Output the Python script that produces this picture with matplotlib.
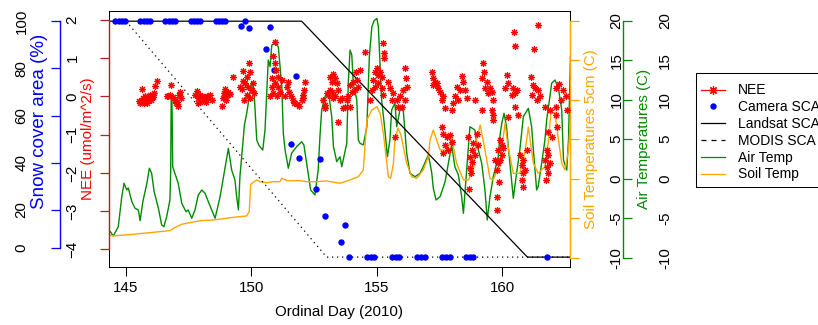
import matplotlib
matplotlib.use("Agg")
import matplotlib.pyplot as plt
from matplotlib.lines import Line2D
from matplotlib.patches import Rectangle

plt.rcParams['font.family'] = ['Liberation Sans', 'DejaVu Sans']

# air temperature (C)
air_day = [144.32, 144.49, 144.69, 144.83, 144.92, 145.03, 145.09, 145.23, 145.36, 145.49, 145.56, 145.67, 145.83, 145.93, 146.02,
           146.12, 146.29, 146.42, 146.51, 146.62, 146.75, 146.78, 146.80, 146.83, 146.86, 147.08, 147.22, 147.39, 147.48, 147.62,
           147.75, 147.88, 148.02, 148.15, 148.28, 148.55, 148.75, 148.91, 149.08, 149.21, 149.34, 149.41, 149.48, 149.54, 149.68,
           149.72, 149.81, 150.01, 150.10, 150.21, 150.30, 150.45, 150.54, 150.67, 150.74, 150.81, 150.94, 151.07, 151.21, 151.27,
           151.34, 151.47, 151.60, 151.80, 152.00, 152.09, 152.20, 152.36, 152.53, 152.66, 152.73, 152.80, 152.93, 153.07, 153.20,
           153.27, 153.40, 153.53, 153.60, 153.80, 153.86, 153.93, 154.00, 154.06, 154.20, 154.26, 154.33, 154.46, 154.60, 154.70,
           154.80, 154.89, 155.00, 155.06, 155.13, 155.19, 155.32, 155.42, 155.52, 155.59, 155.72, 155.79, 155.92, 156.05, 156.19,
           156.32, 156.52, 156.72, 156.85, 157.05, 157.12, 157.19, 157.25, 157.36, 157.52, 157.72, 157.85, 157.98, 158.11, 158.25,
           158.38, 158.45, 158.58, 158.64, 158.71, 158.91, 158.98, 159.18, 159.31, 159.40, 159.51, 159.64, 159.84, 159.91, 159.98,
           160.07, 160.17, 160.24, 160.37, 160.44, 160.57, 160.70, 160.84, 161.04, 161.17, 161.24, 161.37, 161.43, 161.57, 161.70,
           161.77, 161.97, 162.10, 162.24, 162.37, 162.44, 162.57, 162.64, 162.72]
air_temp = [-6.49, -7.25, -6.08, -2.28, -0.58, -1.43, -1.18, -2.91, -3.75, -3.96, -5.32, -2.91, -0.58, 1.32, 0.68,
            -1.65, -3.75, -5.86, -6.08, -4.81, -2.70, 1.00, 10.40, 10.20, 1.50, -0.58, -3.11, -4.18, -3.96, -5.01,
            -3.96, -2.06, -1.43, -1.85, -2.91, -5.01, -2.28, 0.68, 3.85, 1.10, -0.16, -2.28, -3.96, 0.25, 5.32,
            6.80, 8.28, 12.28, 11.23, 4.90, 4.20, 3.63, 6.16, 15.03, 14.18, 16.92, 17.14, 16.71, 11.65, 5.75,
            3.63, 1.32, 3.22, 4.05, 4.68, 4.27, 1.95, -1.43, -2.06, 1.10, 5.32, 8.70, 10.38, 11.01, 7.85,
            4.05, 2.15, 2.78, 1.52, 4.48, 12.08, 16.29, 15.66, 12.08, 9.96, 4.90, 4.48, 4.27, 6.58, 15.44,
            19.24, 20.00, 20.30, 19.24, 14.18, 9.96, 6.16, 2.78, 4.90, 8.70, 9.58, 6.58, 8.70, 8.70, 3.22,
            0.68, 0.25, 0.68, 1.52, 3.00, 1.95, 0.68, -1.21, -2.70, -2.28, -0.38, 1.95, 4.27, 1.52, 0.47,
            -2.28, -4.38, 1.10, 3.63, 6.58, 6.16, 4.48, 1.95, -1.43, -5.23, -2.28, 0.25, 2.78, 5.53, 7.01,
            8.28, 6.58, 4.05, -0.16, -2.48, 0.68, 3.63, 7.85, 8.91, 6.58, 3.63, -1.43, -1.01, 1.95, 4.90,
            7.43, 12.08, 12.49, 11.44, 8.70, 2.37, 1.10, 4.90, 15.50]

# soil temperature at 5 cm (C)
soil_day = [144.32, 144.49, 145.29, 145.96, 146.75, 146.89, 147.22, 147.62, 147.95, 148.48, 149.01, 149.28, 149.81, 149.91, 149.97,
            150.21, 150.34, 150.61, 150.87, 151.14, 151.21, 151.41, 151.94, 152.20, 152.60, 153.00, 153.53, 153.93, 154.26, 154.46,
            154.60, 154.80, 155.00, 155.13, 155.26, 155.32, 155.46, 155.55, 155.66, 155.72, 155.84, 155.96, 156.19, 156.39, 156.59,
            156.85, 157.05, 157.12, 157.25, 157.52, 157.78, 157.98, 158.18, 158.45, 158.65, 158.85, 158.98, 159.12, 159.31, 159.51,
            159.64, 159.91, 160.11, 160.23, 160.44, 160.70, 160.90, 161.04, 161.24, 161.43, 161.70, 161.83, 161.94, 162.10, 162.17,
            162.37, 162.50, 162.64, 162.72]
soil_temp = [-7.13, -7.25, -7.04, -6.83, -6.58, -6.28, -5.77, -5.52, -5.32, -5.23, -5.01, -4.89, -4.72, -4.18, -0.71,
             -0.16, -0.38, -0.51, -0.38, -0.38, 0.05, -0.25, -0.25, -0.38, -0.38, -0.29, -0.58, -0.16, 0.25, 1.10,
             7.43, 8.70, 9.11, 8.28, 5.75, 4.05, 0.25, 0.05, 1.95, 4.90, 6.42, 5.53, 1.95, 0.25, 0.05,
             1.10, 2.78, 4.90, 6.16, 3.63, 3.63, 5.11, 1.95, -0.16, -0.16, 1.10, 4.90, 6.80, 3.63, 0.05,
             -0.16, 1.95, 7.05, 4.05, 0.68, 0.68, 3.22, 6.54, 1.95, 0.68, 1.52, 4.48, 8.32, 8.32, 6.58,
             1.95, 1.10, 3.63, 7.43]

# NEE (umol/m^2/s)
nee_day = [145.63, 146.22, 146.16, 146.12, 146.02, 145.96, 145.89, 145.83, 145.76, 145.69, 145.56, 145.67, 145.80, 145.98, 146.06, 146.09, 145.63, 145.72, 145.85, 145.51,
           146.79, 146.69, 146.62, 146.75, 146.95, 146.89, 147.15, 147.12, 147.08, 147.02, 146.99, 147.18,
           147.82, 147.75, 147.88, 147.95, 148.02, 148.08, 148.15, 148.22, 148.28, 148.35, 147.95, 148.19, 148.42, 147.86,
           148.95, 148.91, 148.85, 148.81, 149.01, 149.08, 149.15, 148.99, 149.25,
           149.91, 149.68, 149.94, 149.81, 149.65, 149.74, 149.61, 149.88, 150.01, 150.07, 149.81, 149.94, 149.70, 150.10, 149.54,
           150.94, 150.87, 150.94, 150.98, 150.81, 151.07, 151.21, 150.94, 150.81, 151.07, 151.14, 150.87, 151.01, 150.74,
           151.34, 151.47, 151.41, 151.51, 151.56, 151.64, 151.70, 151.80, 151.91, 152.00, 152.07, 152.09, 152.13, 152.04,
           153.24, 153.33, 153.20, 153.40, 153.13, 153.46, 152.84, 152.93, 153.06, 153.26, 153.00, 153.13, 153.20, 153.33, 153.53, 153.60, 153.66, 153.46, 152.93,
           153.93, 154.06, 154.20, 154.00, 154.13, 154.26, 153.86, 154.33, 154.17, 153.80, 153.73, 153.93, 154.51,
           155.26, 155.30, 155.28, 154.99, 155.12, 155.06, 154.93, 155.19, 154.86, 155.06, 154.79, 154.93, 155.19, 155.26, 154.73,
           155.46, 155.52, 155.66, 155.59, 155.79, 155.92, 155.99, 156.12, 156.16, 156.12, 156.19, 156.05, 155.85, 155.72,
           157.19, 157.25, 157.32, 157.39, 157.45, 157.52, 157.59, 157.65, 157.72, 157.59, 157.25, 157.65, 157.78, 157.91, 157.72, 157.85, 157.98, 157.65,
           158.38, 158.44, 158.18, 158.31, 158.51, 158.11, 158.25, 158.05, 158.58, 157.98, 158.92, 159.21,
           158.64, 158.84, 158.78, 158.71, 158.91, 158.78, 158.71, 158.74, 158.69, 158.98, 159.05,
           159.24, 159.27, 159.21, 159.38, 159.31, 159.51, 159.44, 159.58, 159.64, 159.58, 159.64, 159.62,
           159.91, 159.98, 159.84, 159.98, 159.91, 159.84, 159.78, 159.88, 159.78, 159.78, 159.71, 160.02,
           160.17, 160.24, 160.11, 160.44, 160.51, 160.57, 160.37, 160.51, 160.64, 160.24, 160.47, 160.51,
           160.70, 160.84, 160.78, 160.82, 160.78, 160.90, 161.00, 160.82,
           161.14, 161.24, 161.30, 161.43, 161.17, 161.50, 161.37, 161.43, 161.27, 161.70, 161.90,
           161.77, 161.83, 161.70, 161.77, 161.83, 161.74, 161.90, 161.97, 161.83,
           162.14, 162.42, 162.54, 162.14, 162.34, 162.26, 162.58, 162.14, 162.17]
nee_flux = [0.19, 0.41, 0.27, 0.10, -0.01, 0.04, -0.05, -0.09, 0.00, -0.14, -0.18, -0.05, -0.08, -0.09, -0.02, 0.04, -0.08, -0.18, -0.18, -0.12,
            0.30, 0.00, 0.01, 0.04, -0.09, -0.02, 0.12, 0.04, -0.25, -0.14, -0.18, -0.05,
            0.15, 0.05, -0.05, 0.04, 0.00, -0.08, -0.02, 0.01, -0.05, 0.04, -0.14, -0.14, -0.09, -0.18,
            0.19, 0.10, -0.05, -0.25, 0.04, 0.12, 0.06, -0.09, 0.50,
            0.88, 0.67, 0.65, 0.52, 0.41, 0.34, 0.19, 0.25, 0.17, 0.34, 0.04, -0.05, -0.09, 0.08, 0.25,
            1.43, 1.06, 0.87, 0.69, 0.47, 0.50, 0.43, 0.34, 0.25, 0.24, 0.12, 0.08, 0.00, 0.00,
            0.00, 0.38, 0.24, 0.12, 0.00, -0.08, -0.17, -0.20, -0.25, -0.09, 0.04, 0.17, 0.38, -0.05,
            0.59, 0.47, 0.38, 0.34, 0.17, 0.17, -0.08, -0.23, 0.04, -0.05, 0.08, 0.52, 0.12, 0.00, -0.09, -0.05, -0.31, -0.66, -0.31,
            0.30, 0.38, 0.43, 0.12, 0.17, 0.25, 0.00, 0.69, 0.65, -0.09, -0.27, -0.27, 1.17,
            1.41, 1.13, 1.00, 0.74, 0.65, 0.56, 0.65, 0.52, 0.43, 0.34, 0.17, 0.25, 0.21, 0.04, -0.09,
            0.38, 0.21, 0.08, -0.09, -0.09, 0.00, -0.27, -0.09, 0.47, 0.74, 0.25, 0.17, -0.27, -1.07,
            0.65, 0.47, 0.38, 0.34, 0.21, 0.12, -0.09, 0.00, -0.31, -0.79, 0.30, -0.97, -1.06, -1.01, -1.27, -1.40, -1.19, -1.49,
            0.53, 0.38, 0.25, 0.17, 0.17, 0.00, -0.09, -0.18, -0.05, -0.36, -0.08, -0.36,
            -1.06, -1.23, -1.40, -1.58, -1.53, -1.71, -1.88, -2.01, -2.43, -0.97, -1.27,
            0.88, 0.65, 0.47, 0.38, 0.21, 0.21, 0.08, 0.12, -0.09, -0.36, -0.49, -0.62,
            -1.14, -1.27, -1.40, -1.53, -1.67, -1.75, -1.93, -2.23, -2.63, -2.97, -1.67, -1.36,
            0.56, 0.34, 0.21, 0.21, 0.08, 0.17, 0.04, -0.27, -0.49, -0.53, 1.69, 1.33,
            -1.53, -1.67, -1.80, -2.01, -2.19, -1.93, -1.40, -2.36,
            0.50, 0.30, 0.21, 0.17, 0.04, 0.00, -0.09, 1.87, 1.23, -0.27, -0.36,
            -1.40, -1.53, -1.67, -1.84, -2.01, -2.19, -1.75, -1.06, -0.92,
            0.22, 0.17, 0.01, -0.27, -0.09, 0.32, -0.36, -0.49, -0.79]

# snow cover area (%)
cam_day = [144.57, 144.70, 144.83, 144.96, 145.57, 145.70, 145.83, 145.96, 146.57, 146.70, 146.83, 146.96,
           147.57, 147.70, 147.83, 147.96, 148.57, 148.70, 148.83, 148.96,
           149.57, 149.74, 149.91, 150.57, 150.74, 150.91, 151.58, 151.76, 151.91, 152.57, 152.73, 152.92,
           153.57, 153.74, 153.90, 154.60, 154.75, 154.90, 155.60, 155.75, 155.90, 156.60, 156.75, 156.90,
           157.60, 157.75, 157.90, 158.55, 158.70, 158.85, 161.78]
cam_sca = [100, 100, 100, 100, 100, 100, 100, 100, 100, 100, 100, 100,
           100, 100, 100, 100, 100, 100, 100, 100,
           97.9, 100, 97.3, 88.2, 97.5, 79.5, 48.0, 76.7, 42.1, 28.8, 41.6, 17.3,
           6.5, 13.8, 0, 0, 0, 0, 0, 0, 0, 0, 0, 0,
           0, 0, 0, 0, 0, 0, 0]
landsat_day = [144.0, 152.0, 161.0, 163.0]
landsat_sca = [100, 100, 0, 0]
modis_day = [145.0, 153.0, 163.0]
modis_sca = [100, 0, 0]

day_ticks = [145, 150, 155, 160]
snow_ticks = [4, 20, 40, 60, 80, 100]
snow_labels = ['0', '20', '40', '60', '80', '100']
nee_ticks = [-4, -3, -2, -1, 0, 1, 2]
temp_ticks = [-10, -5, 0, 5, 10, 15, 20]

c_air = '#008B00'
c_soil = '#FFA500'
c_nee_ax = '#B22222'
fs = 10.9

fig = plt.figure(figsize=(8.18, 3.25), dpi=100)
ax = fig.add_axes([0.13325, 0.17754, 0.56357, 0.78862])
ax.set_xlim(144.32, 162.70)
ax.set_ylim(-11.22, 21.23)
ax.plot(air_day, air_temp, color=c_air, lw=1.0)
ax.set_yticks([])
ax.set_xticks(day_ticks)
ax.tick_params(axis='x', length=6.5, width=0.75, pad=3.2, labelsize=fs)
for s in ax.spines.values():
    s.set_linewidth(0.75)


def side_axis(color, ticks, labels, lim, pos, side, pad, bounds):
    a = ax.twinx()
    a.set_ylim(*lim)
    for s in ['left', 'right', 'top', 'bottom']:
        a.spines[s].set_visible(False)
    sp = a.spines[side]
    sp.set_visible(True)
    sp.set_position(('axes', pos))
    sp.set_color(color)
    sp.set_linewidth(1.0)
    sp.set_bounds(*bounds)
    if side == 'left':
        a.yaxis.tick_left()
    else:
        a.yaxis.tick_right()
    a.set_yticks(ticks)
    a.set_yticklabels(labels)
    a.tick_params(axis='y', length=6.5, width=0.9, color=color, labelcolor='black',
                  labelsize=fs, pad=pad, labelrotation=90)
    for lab in a.get_yticklabels():
        lab.set_ha('center')
        lab.set_va('center')
    return a


ax_soil = side_axis(c_soil, temp_ticks, [str(t) for t in temp_ticks], (-11.22, 21.23), 1.0, 'right', 27.1, (-10, 20))
ax_soil.plot(soil_day, soil_temp, color=c_soil, lw=1.0)
ax_air = side_axis(c_air, temp_ticks, [str(t) for t in temp_ticks], (-11.22, 21.23), 1.1143, 'right', 24.0, (-10, 20))

ax_snow = side_axis('blue', snow_ticks, snow_labels, (-4.32, 104.32), -0.1063, 'left', 21.1, (4, 100))
ax_snow.plot(landsat_day, landsat_sca, color='black', lw=0.9)
ax_snow.plot(modis_day, modis_sca, color='black', lw=0.9, dashes=(1, 3))
ax_snow.plot(cam_day, cam_sca, 'o', color='blue', markersize=4.6, markeredgewidth=0)

ax_nee = side_axis(c_nee_ax, nee_ticks, [str(t).replace('-', '\u2212') for t in nee_ticks], (-4.47, 2.236), 0.0, 'left', 19.8, (-4, 2))
ax_nee.plot(nee_day, nee_flux, linestyle='none', marker=(8, 2, 0), color='red', markersize=5, markeredgewidth=0.8)
for a in [ax_soil, ax_air, ax_snow, ax_nee]:
    a.set_xlim(144.32, 162.70)

fig.text(0.0477, 0.6255, 'Snow cover area (%)', color='blue', rotation=90, ha='center', va='center', fontsize=13.5)
fig.text(0.1076, 0.5723, 'NEE (umol/m^2/s)', color='red', rotation=90, ha='center', va='center', fontsize=fs)
fig.text(0.7231, 0.5723, 'Soil Temperatures 5cm (C)', color=c_soil, rotation=90, ha='center', va='center', fontsize=fs)
fig.text(0.7873, 0.5723, 'Air Temperatures (C)', color=c_air, rotation=90, ha='center', va='center', fontsize=fs)
fig.text(0.4150, 0.0409, 'Ordinal Day (2010)', ha='center', va='center', fontsize=fs)

handles = [
    Line2D([], [], color='red', lw=0.9, marker=(8, 2, 0), markersize=6, markeredgewidth=0.9),
    Line2D([], [], color='blue', linestyle='none', marker='o', markersize=4.6, markeredgewidth=0),
    Line2D([], [], color='black', lw=0.9),
    Line2D([], [], color='black', lw=0.9, dashes=(4, 4)),
    Line2D([], [], color=c_air, lw=0.9),
    Line2D([], [], color=c_soil, lw=0.9),
]
labels = ['NEE', 'Camera SCA', 'Landsat SCA', 'MODIS SCA', 'Air Temp', 'Soil Temp']
fig.legend(handles, labels, loc='upper left', bbox_to_anchor=(700.7 / 818, 1 - 83.5 / 325),
           frameon=False, fontsize=10, handlelength=1.73, handletextpad=0.96,
           labelspacing=0.2, borderpad=0, borderaxespad=0)
fig.add_artist(Rectangle((696 / 818, 1 - 187.3 / 325), 140 / 818, 114.6 / 325,
                         transform=fig.transFigure, fill=False, edgecolor='black', lw=0.75))

fig.savefig('out.png', dpi=100)
